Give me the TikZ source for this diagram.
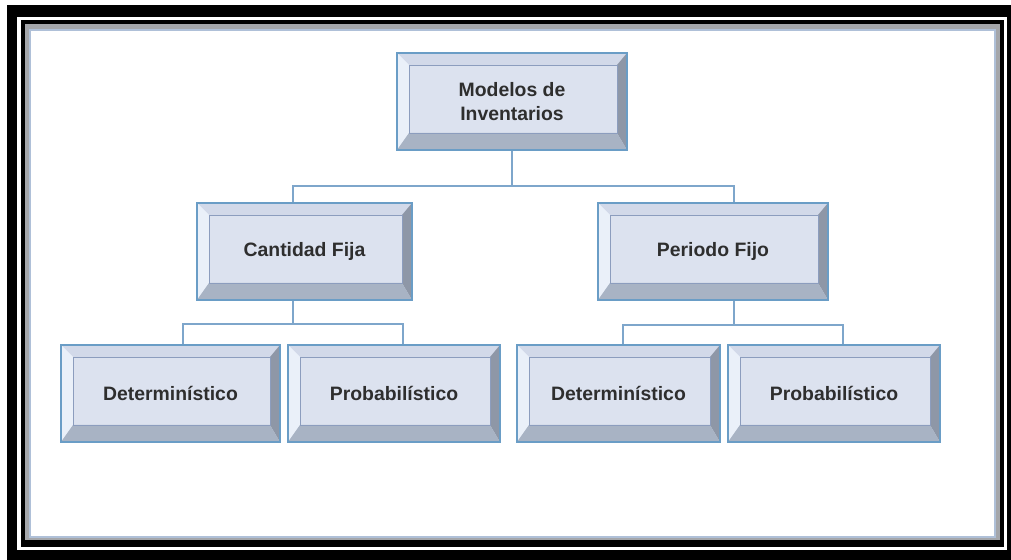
\documentclass[tikz,border=0pt]{standalone}
\usepackage{fontspec}
\setmainfont{Liberation Sans}
\definecolor{faceblue}{HTML}{DCE2EF}
\definecolor{bevtop}{HTML}{D2D9E9}
\definecolor{bevleft}{HTML}{EAF0F9}
\definecolor{bevright}{HTML}{8E97A7}
\definecolor{bevbot}{HTML}{A8B3C4}
\definecolor{edgeblue}{HTML}{6A9DC6}
\definecolor{facelin}{HTML}{8C9DBE}
\definecolor{linkblue}{HTML}{7EA6CB}
\definecolor{txtgray}{HTML}{2E2E2E}
\definecolor{framegray}{HTML}{A4A6AA}
\definecolor{frameline}{HTML}{AFC0D8}
\begin{document}
\begin{tikzpicture}[x=0.5pt,y=-0.5pt,
  bevel/.style 2 args={draw=edgeblue,line width=1.1pt,fill=faceblue,
    minimum width=#1*0.5pt,minimum height=#2*0.5pt,inner sep=0pt,
    text=txtgray,font=\bfseries\fontsize{9.7}{12}\selectfont,align=center,
    path picture={
      \coordinate (nw) at (path picture bounding box.north west);
      \coordinate (ne) at (path picture bounding box.north east);
      \coordinate (sw) at (path picture bounding box.south west);
      \coordinate (se) at (path picture bounding box.south east);
      \fill[bevtop] (nw) -- (ne) -- ([shift={(-10,12)}]ne) -- ([shift={(12,12)}]nw) -- cycle;
      \fill[bevleft] (nw) -- ([shift={(12,12)}]nw) -- ([shift={(12,-17)}]sw) -- (sw) -- cycle;
      \fill[bevright] (ne) -- (se) -- ([shift={(-10,-17)}]se) -- ([shift={(-10,12)}]ne) -- cycle;
      \fill[bevbot] (sw) -- ([shift={(12,-17)}]sw) -- ([shift={(-10,-17)}]se) -- (se) -- cycle;
      \draw[facelin,line width=0.4pt] ([shift={(12,12)}]nw) rectangle ([shift={(-10,-17)}]se);
    }},
  link/.style={draw=linkblue,line width=1pt}]
\useasboundingbox (0,0) rectangle (1011,560);
\fill[black] (7,5) rectangle (1011,560);
\fill[white] (17,17) rectangle (1007,550);
\fill[black] (21,20) rectangle (1004,547);
\fill[framegray] (25,24) rectangle (1000,540);
\filldraw[fill=white,draw=frameline,line width=1pt] (30,30) rectangle (995,537);
\node[bevel={230}{97}] (inv) at (512,101.5) {Modelos de\\Inventarios};
\node[bevel={215}{97}] (cant) at (304.5,251.5) {Cantidad Fija};
\node[bevel={230}{97}] (per) at (713,251.5) {Periodo Fijo};
\node[bevel={219}{97}] (det1) at (170.5,393.5) {Determinístico};
\node[bevel={212}{97}] (prob1) at (394,393.5) {Probabilístico};
\node[bevel={203}{97}] (det2) at (618.5,393.5) {Determinístico};
\node[bevel={212}{97}] (prob2) at (834,393.5) {Probabilístico};
\draw[link] (inv.south) -- ++(0,35) coordinate (busA);
\draw[link] ([xshift=-5.75pt]cant.north) |- (busA) -| ([xshift=10.5pt]per.north);
\draw[link] ([xshift=-5.75pt]cant.south) -- ++(0,23) coordinate (busB);
\draw[link] ([xshift=6.25pt]det1.north) |- (busB) -| ([xshift=4.5pt]prob1.north);
\draw[link] ([xshift=10.5pt]per.south) -- ++(0,24) coordinate (busC);
\draw[link] ([xshift=2.25pt]det2.north) |- (busC) -| ([xshift=4.5pt]prob2.north);
\end{tikzpicture}
\end{document}
